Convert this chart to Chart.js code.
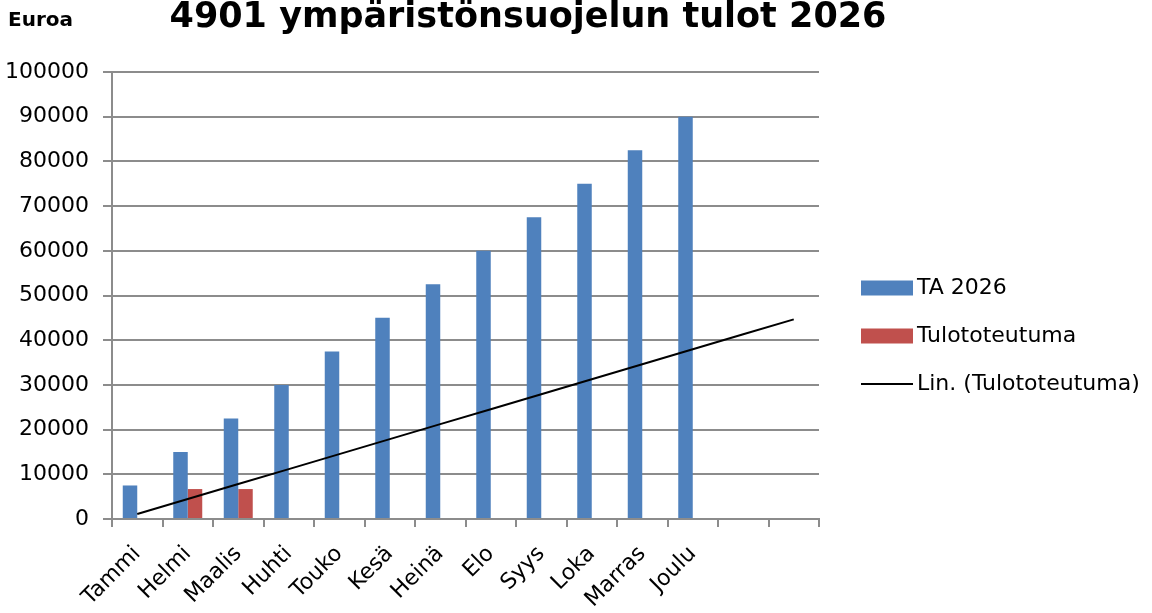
<!DOCTYPE html>
<html>
<head>
<meta charset="utf-8">
<script src="https://cdn.jsdelivr.net/npm/chart.js@4/dist/chart.umd.min.js"></script>
<style>
  html, body { margin: 0; padding: 0; background: #fff; }
  #wrap { width: 1152px; height: 613px; position: relative; }
</style>
</head>
<body>
<div id="wrap"><canvas id="tulotChart"></canvas></div>
<script>
const months = ['Tammi', 'Helmi', 'Maalis', 'Huhti', 'Touko', 'Kesä', 'Heinä', 'Elo', 'Syys', 'Loka', 'Marras', 'Joulu', '', ''];
const budget2026 = [7500, 15000, 22500, 30000, 37500, 45000, 52500, 60000, 67500, 75000, 82500, 90000, null, null];
const actualIncome = [0, 6700, 6700, null, null, null, null, null, null, null, null, null, null, null];
const yTicks = [0, 10000, 20000, 30000, 40000, 50000, 60000, 70000, 80000, 90000, 100000];

// linear trend of the actual income (Excel style), across all categories
function linearTrend(values, count) {
  const pts = [];
  values.forEach((v, i) => { if (v !== null) pts.push([i + 1, v]); });
  const n = pts.length;
  const mx = pts.reduce((s, p) => s + p[0], 0) / n;
  const my = pts.reduce((s, p) => s + p[1], 0) / n;
  let num = 0, den = 0;
  pts.forEach(p => { num += (p[0] - mx) * (p[1] - my); den += (p[0] - mx) ** 2; });
  const slope = num / den;
  const out = [];
  for (let x = 1; x <= count; x++) out.push(my + slope * (x - mx));
  return out;
}
const trend = linearTrend(actualIncome, months.length);

const FONT = '"DejaVu Sans", sans-serif';
const GRID = '#8c8c8c';

const extraText = {
  id: 'extraText',
  afterDraw(chart) {
    const ctx = chart.ctx;
    ctx.save();
    ctx.fillStyle = '#000';
    ctx.textBaseline = 'alphabetic';
    ctx.font = 'bold 20px ' + FONT;
    ctx.textAlign = 'left';
    ctx.fillText('Euroa', 8, 26);
    ctx.font = 'bold 35px ' + FONT;
    ctx.textAlign = 'center';
    ctx.fillText('4901 ympäristönsuojelun tulot 2026', 528, 27);

    // legend
    const items = chart.data.datasets;
    const ys = [288, 336, 384];
    ctx.font = '22px ' + FONT;
    ctx.textAlign = 'left';
    ctx.textBaseline = 'middle';
    items.forEach((ds, i) => {
      const y = ys[i];
      if (ds.type === 'line') {
        ctx.strokeStyle = ds.borderColor;
        ctx.lineWidth = 2;
        ctx.beginPath();
        ctx.moveTo(861, y);
        ctx.lineTo(913, y);
        ctx.stroke();
      } else {
        ctx.fillStyle = ds.backgroundColor;
        ctx.fillRect(861, y - 7.5, 52, 15);
      }
      ctx.fillStyle = '#000';
      ctx.fillText(ds.label, 917, y);
    });
    ctx.restore();
  }
};

new Chart(document.getElementById('tulotChart'), {
  type: 'bar',
  data: {
    labels: months,
    datasets: [
      {
        label: 'TA 2026',
        data: budget2026,
        backgroundColor: '#4F81BD',
        categoryPercentage: 0.574,
        barPercentage: 1,
        order: 2,
      },
      {
        label: 'Tulototeutuma',
        data: actualIncome,
        backgroundColor: '#C0504D',
        categoryPercentage: 0.574,
        barPercentage: 1,
        order: 2,
      },
      {
        type: 'line',
        label: 'Lin. (Tulototeutuma)',
        data: trend,
        borderColor: '#000',
        borderWidth: 2,
        pointRadius: 0,
        fill: false,
        order: 1,
      },
    ],
  },
  options: {
    responsive: true,
    maintainAspectRatio: false,
    animation: false,
    layout: { padding: { top: 72, right: 333, left: 0, bottom: 0 } },
    plugins: {
      legend: { display: false },
      title: { display: false },
      tooltip: { enabled: false },
    },
    scales: {
      x: {
        afterFit: s => { s.height = 94; },
        grid: { drawOnChartArea: false, drawTicks: true, tickLength: 8, color: GRID, lineWidth: 2 },
        border: { color: GRID, width: 2 },
        ticks: {
          color: '#000',
          font: { family: FONT, size: 22 },
          maxRotation: 45,
          minRotation: 45,
          autoSkip: false,
          padding: 14,
        },
      },
      y: {
        min: 0,
        max: 100000,
        afterFit: s => { s.width = 112; },
        afterBuildTicks: s => { s.ticks = yTicks.map(v => ({ value: v })); },
        grid: { color: GRID, lineWidth: 2, tickLength: 9 },
        border: { color: GRID, width: 2 },
        ticks: {
          color: '#000',
          font: { family: FONT, size: 22 },
          padding: 14,
          callback: v => String(v),
        },
      },
    },
  },
  plugins: [extraText],
});
</script>
</body>
</html>
